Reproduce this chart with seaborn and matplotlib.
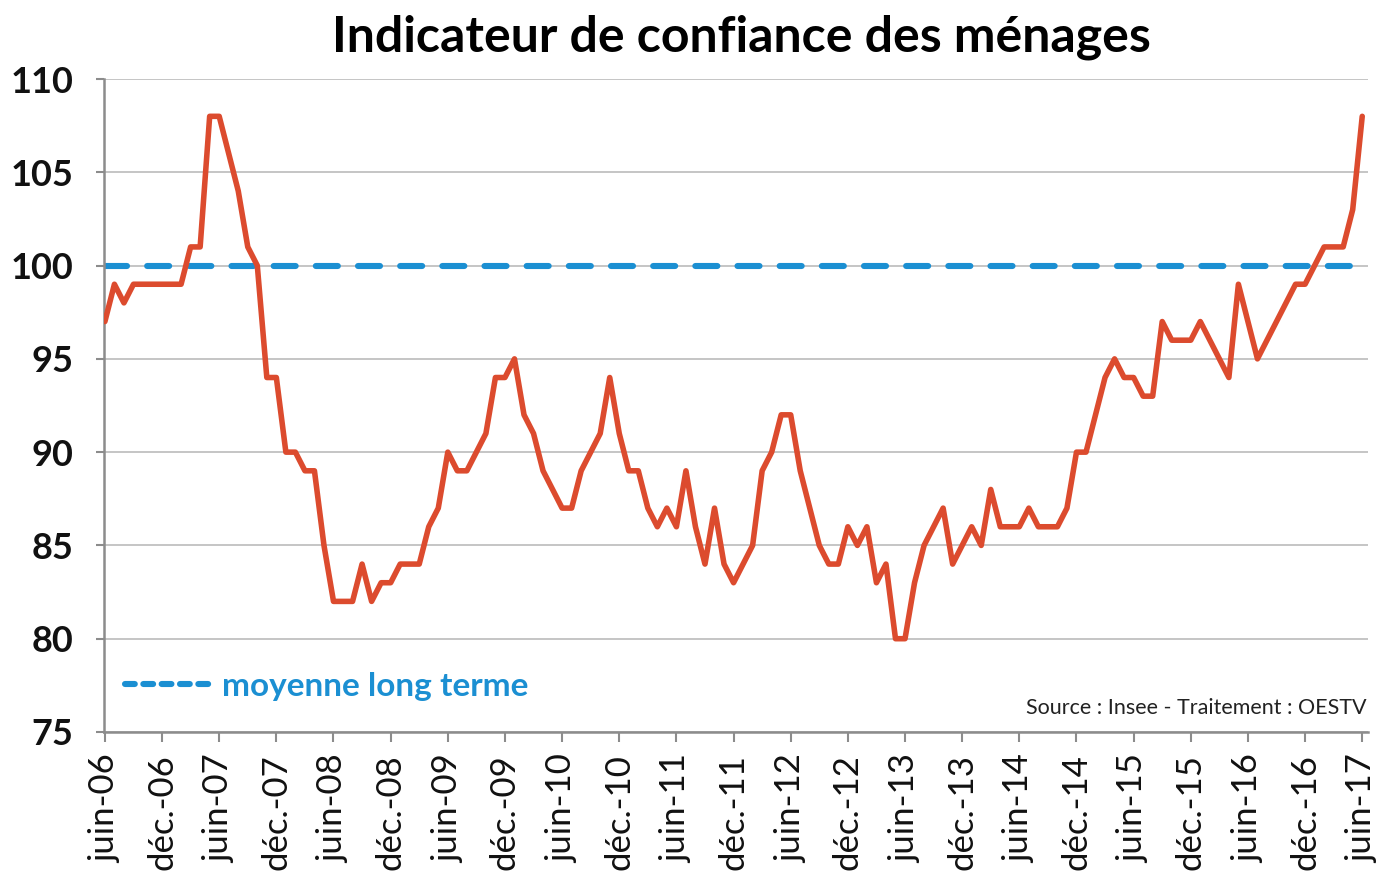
import matplotlib
matplotlib.use("Agg")
import matplotlib.pyplot as plt
from matplotlib.lines import Line2D
import seaborn as sns
import pandas as pd

# monthly values, juin-06 .. juin-17
values = [
    97, 99, 98, 99, 99, 99, 99, 99, 99, 101, 101, 108,          # juin-06 -> mai-07
    108, 106, 104, 101, 100, 94, 94, 90, 90, 89, 89, 85,       # juin-07 -> mai-08
    82, 82, 82, 84, 82, 83, 83, 84, 84, 84, 86, 87,            # juin-08 -> mai-09
    90, 89, 89, 90, 91, 94, 94, 95, 92, 91, 89, 88,            # juin-09 -> mai-10
    87, 87, 89, 90, 91, 94, 91, 89, 89, 87, 86, 87,            # juin-10 -> mai-11
    86, 89, 86, 84, 87, 84, 83, 84, 85, 89, 90, 92,            # juin-11 -> mai-12
    92, 89, 87, 85, 84, 84, 86, 85, 86, 83, 84, 80,            # juin-12 -> mai-13
    80, 83, 85, 86, 87, 84, 85, 86, 85, 88, 86, 86,            # juin-13 -> mai-14
    86, 87, 86, 86, 86, 87, 90, 90, 92, 94, 95, 94,            # juin-14 -> mai-15
    94, 93, 93, 97, 96, 96, 96, 97, 96, 95, 94, 99,            # juin-15 -> mai-16
    97, 95, 96, 97, 98, 99, 99, 100, 101, 101, 101, 103,       # juin-16 -> mai-17
    108,                                                       # juin-17
]
long_term_mean = 100
tick_labels = []
for yy in range(6, 17):
    tick_labels += ["juin-%02d" % yy, "déc.-%02d" % yy]
tick_labels.append("juin-17")

df = pd.DataFrame({"mois": range(len(values)), "indicateur": values})
df["moyenne"] = long_term_mean

red = "#dc4b2e"
blue = "#1b8fd2"
axis_grey = "#8c8c8c"

sns.set_style("white")
plt.rcParams["font.family"] = ["Lato", "DejaVu Sans"]

fig = plt.figure(figsize=(13.84, 8.76), dpi=100)
ax = fig.add_axes([0.0751, 0.1644, 0.9133, 0.7454])

for v in range(75, 111, 5):
    ax.axhline(v, color="#b5b5b5", lw=1.1, zorder=0)

sns.lineplot(ax=ax, data=df, x="mois", y="moyenne", color=blue, lw=4.4,
             dashes=False, zorder=2)
ax.lines[-1].set_dashes([3.6, 3.3])
ax.lines[-1].set_dash_capstyle("round")
sns.lineplot(ax=ax, data=df, x="mois", y="indicateur", color=red, lw=4.0,
             zorder=3)
ax.lines[-1].set_solid_joinstyle("round")
ax.lines[-1].set_solid_capstyle("round")

ax.set_xlim(-0.1, 132.6)
ax.set_ylim(75, 110)
ax.set_yticks(range(75, 111, 5))
ax.set_xticks(range(0, 133, 6))
ax.set_xticklabels(tick_labels, rotation=90, fontsize=25, color="#111111")
ax.tick_params(axis="x", length=7, width=1.5, color=axis_grey, pad=9, direction="out", bottom=True)
ax.tick_params(axis="y", length=6, width=1.5, color=axis_grey, pad=16, direction="out", left=True)
for lab in ax.get_yticklabels():
    lab.set_fontsize(26)
    lab.set_fontweight("bold")
    lab.set_color("#111111")
ax.set_xlabel("")
ax.set_ylabel("")

for side in ["top", "right"]:
    ax.spines[side].set_visible(False)
for side in ["left", "bottom"]:
    ax.spines[side].set_color(axis_grey)
    ax.spines[side].set_linewidth(1.8)

handle = Line2D([], [], color=blue, lw=4.4, dashes=[1.6, 1.4], dash_capstyle="round")
leg = ax.legend([handle], ["moyenne long terme"], loc="center left",
                bbox_to_anchor=(0.0166, 0.0704), frameon=False, borderpad=0,
                borderaxespad=0, handlelength=2.6, handletextpad=0.3,
                prop={"size": 24, "weight": "bold"}, labelcolor=blue)

ax.text(0.9985, 0.036, "Source : Insee - Traitement : OESTV", transform=ax.transAxes,
        ha="right", va="center", fontsize=15.5, color="#222222")

fig.text(0.5354, 0.957, "Indicateur de confiance des ménages", ha="center", va="center",
         fontsize=36, fontweight="bold", color="black")

fig.savefig("out.png", dpi=100)
